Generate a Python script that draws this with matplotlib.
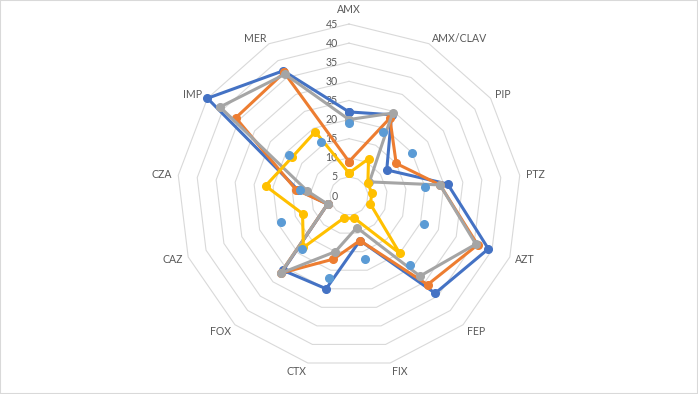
import numpy as np
import matplotlib
matplotlib.use("Agg")
import matplotlib.pyplot as plt
from matplotlib.patches import Rectangle

categories = ["AMX", "AMX/CLAV", "PIP", "PTZ", "AZT", "FEP", "FIX", "CTX",
              "FOX", "CAZ", "CZA", "IMP", "MER"]
series_blue = [22, 24, 12, 26, 39, 34, 12, 25, 26, 6, 13.5, 45, 37]
series_orange = [9, 23, 15, 24, 36, 31, 12, 17, 27, 6, 14, 36, 36.5]
series_gray = [20, 24.5, 6.5, 24, 35.5, 28, 8.5, 15, 27, 6, 11, 41, 36]
series_yellow = [6, 11, 6, 6, 6, 20, 6, 6, 18, 13, 22, 18, 19]
series_lightblue = [19, 19, 20, 20, 21, 24, 17, 22, 18.5, 19, 13, 19, 16]
ticks = [0, 5, 10, 15, 20, 25, 30, 35, 40, 45]

plt.rcParams['font.family'] = ['Lato', 'DejaVu Sans']
TXT = '#595959'
FS = 7.6

fig = plt.figure(figsize=(6.98, 3.94), dpi=100)
fig.patch.set_facecolor('white')
W, H = 698, 394
cx, cy, R = 349, 196, 172
ax = fig.add_axes([(cx - R) / W, (H - cy - R) / H, 2 * R / W, 2 * R / H], projection='polar')
ax.set_theta_offset(np.pi / 2)
ax.set_theta_direction(-1)
ax.set_ylim(0, 45)
ax.grid(False)
ax.spines['polar'].set_visible(False)
ax.set_xticks([])
ax.set_yticks([])
ax.patch.set_alpha(0)

n = len(categories)
theta = np.arange(n) * 2 * np.pi / n
tc = np.append(theta, theta[0])

for r in ticks[1:]:
    ax.plot(tc, [r] * (n + 1), color='#D9D9D9', lw=0.8, zorder=0, clip_on=False)

for r in ticks:
    ax.annotate(str(r), xy=(0, r), xytext=(-8, 0), textcoords='offset points',
                ha='right', va='center', color=TXT, fontsize=FS)

d = 4.3
for t, lab in zip(theta, categories):
    s, c = np.sin(t), np.cos(t)
    if s > 0.1:
        ha = 'left'
    elif s < -0.1:
        ha = 'right'
    else:
        ha = 'center'
    va = 'center'
    ox, oy = s * d, c * d
    if abs(s) < 0.1:
        va = 'bottom' if c > 0 else 'top'
        oy += 2.5
    elif c < -0.5:
        oy -= 2
    ax.annotate(lab, xy=(t, 45), xytext=(ox, oy), textcoords='offset points',
                ha=ha, va=va, color=TXT, fontsize=FS)

def closed(v):
    return list(v) + [v[0]]

for vals, col in [(series_blue, '#4472C4'), (series_orange, '#ED7D31'),
                  (series_gray, '#A5A5A5'), (series_yellow, '#FFC000')]:
    ax.plot(tc, closed(vals), color=col, lw=2.2, marker='o', markersize=5.5,
            zorder=3, clip_on=False)
ax.plot(theta, series_lightblue, linestyle='none', marker='o', markersize=5.5,
        color='#5B9BD5', zorder=4, clip_on=False)

fig.patches.append(Rectangle((0, 0), 1, 1, transform=fig.transFigure, fill=False,
                             edgecolor='#D9D9D9', lw=1.5))
fig.savefig('out.png', dpi=100)
